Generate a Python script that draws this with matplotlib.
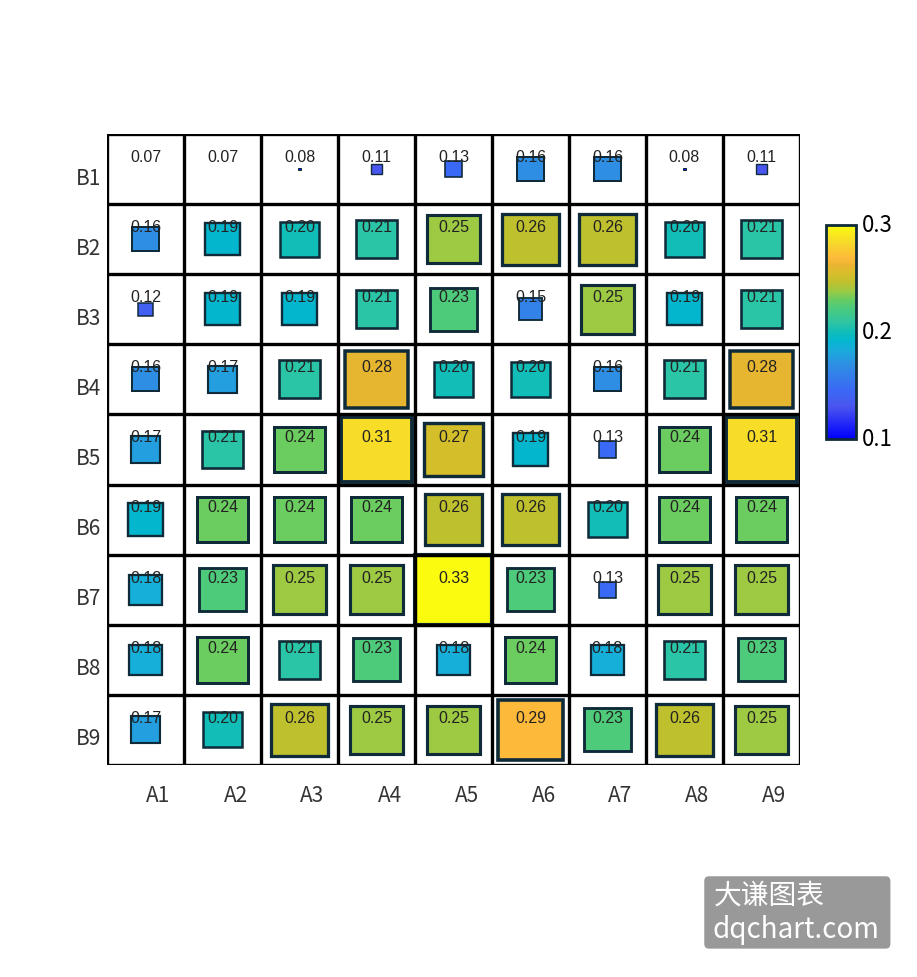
import numpy as np
import matplotlib
matplotlib.use("Agg")
import matplotlib.pyplot as plt
from matplotlib.colors import LinearSegmentedColormap, Normalize
from matplotlib.patches import Rectangle, FancyBboxPatch
import matplotlib.transforms as mtransforms

plt.rcParams['font.family'] = ['Noto Sans CJK SC', 'DejaVu Sans']

cols = ["A1", "A2", "A3", "A4", "A5", "A6", "A7", "A8", "A9"]
rows = ["B1", "B2", "B3", "B4", "B5", "B6", "B7", "B8", "B9"]

b1 = [0.07, 0.07, 0.08, 0.11, 0.13, 0.16, 0.16, 0.08, 0.11]
b2 = [0.16, 0.19, 0.20, 0.21, 0.25, 0.26, 0.26, 0.20, 0.21]
b3 = [0.12, 0.19, 0.19, 0.21, 0.23, 0.15, 0.25, 0.19, 0.21]
b4 = [0.16, 0.17, 0.21, 0.28, 0.20, 0.20, 0.16, 0.21, 0.28]
b5 = [0.17, 0.21, 0.24, 0.31, 0.27, 0.19, 0.13, 0.24, 0.31]
b6 = [0.19, 0.24, 0.24, 0.24, 0.26, 0.26, 0.20, 0.24, 0.24]
b7 = [0.18, 0.23, 0.25, 0.25, 0.33, 0.23, 0.13, 0.25, 0.25]
b8 = [0.18, 0.24, 0.21, 0.23, 0.18, 0.24, 0.18, 0.21, 0.23]
b9 = [0.17, 0.20, 0.26, 0.25, 0.25, 0.29, 0.23, 0.26, 0.25]
values = np.array([b1, b2, b3, b4, b5, b6, b7, b8, b9])

vmin, vmax = values.min(), values.max()

# custom blue -> cyan -> green -> olive -> orange -> yellow map
cmap = LinearSegmentedColormap.from_list("bcgy", [
    (0.00, "#0000ff"),
    (0.15, "#4a55ef"),
    (0.23, "#3a6af5"),
    (0.35, "#2d90e2"),
    (0.42, "#18aedb"),
    (0.46, "#03b6cf"),
    (0.50, "#10bdb8"),
    (0.54, "#2cc4a6"),
    (0.615, "#4ccb7a"),
    (0.655, "#6bcc5f"),
    (0.69, "#9aca45"),
    (0.73, "#bdc02e"),
    (0.77, "#d5bf2a"),
    (0.81, "#e8b531"),
    (0.846, "#fdb93a"),
    (0.92, "#f7da2a"),
    (1.00, "#fbfb10"),
])
norm = Normalize(vmin=vmin, vmax=vmax)

fig = plt.figure(figsize=(9.17, 9.78), dpi=100)
ax = fig.add_axes([0.1167, 0.2168, 0.7557, 0.6452])

n_r, n_c = values.shape
for i in range(n_r):
    for j in range(n_c):
        v = values[i, j]
        s = (v - vmin) / (vmax - vmin)
        if s > 0:
            ax.add_patch(Rectangle((j + 0.5 - s / 2, i + 0.5 - s / 2), s, s,
                                   facecolor=cmap(norm(v)), edgecolor="#0f2a38",
                                   linewidth=9 * v, zorder=2))
        ax.text(j + 0.5, i + 0.32, f"{v:.2f}", ha="center", va="center",
                fontsize=11.5, color="#222222", family="Liberation Sans", zorder=3)

for k in range(n_c + 1):
    ax.axvline(k, color="black", lw=2.4, zorder=4)
for k in range(n_r + 1):
    ax.axhline(k, color="black", lw=2.4, zorder=4)

ax.set_xlim(0, n_c)
ax.set_ylim(n_r, 0)
ax.set_xticks(np.arange(n_c) + 0.5)
ax.set_xticklabels(cols, fontsize=15, color="#333333")
ax.set_yticks(np.arange(n_r) + 0.5)
ax.set_yticklabels(rows, fontsize=15, color="#333333")
ax.tick_params(axis="x", length=0, pad=14)
ax.tick_params(axis="y", length=0, pad=4)
for sp in ax.spines.values():
    sp.set_visible(False)

dx = mtransforms.ScaledTranslation(0.13, 0, fig.dpi_scale_trans)
for lab in ax.get_xticklabels():
    lab.set_transform(lab.get_transform() + dx)
dy = mtransforms.ScaledTranslation(0, -0.06, fig.dpi_scale_trans)
for lab in ax.get_yticklabels():
    lab.set_transform(lab.get_transform() + dy)

cax = fig.add_axes([0.9008, 0.5501, 0.0327, 0.2188])
sm = plt.cm.ScalarMappable(norm=norm, cmap=cmap)
cb = fig.colorbar(sm, cax=cax, ticks=[vmin, 0.2, vmax])
cb.ax.set_yticklabels([f"{t:.1f}" for t in [vmin, 0.2, vmax]])
cb.ax.tick_params(length=0, labelsize=16, pad=4)
for lab in cb.ax.get_yticklabels():
    lab.set_transform(lab.get_transform() + mtransforms.ScaledTranslation(0, 0.03, fig.dpi_scale_trans))
cb.outline.set_edgecolor("#0f2a38")
cb.outline.set_linewidth(2)

# watermark
fig.patches.append(FancyBboxPatch((0.768, 0.029), 0.203, 0.074,
                                  boxstyle="round,pad=0,rounding_size=0.005",
                                  transform=fig.transFigure, facecolor="#999999",
                                  edgecolor="none"))
fig.text(0.778, 0.084, "大谦图表", color="white", fontsize=20, va="center", ha="left")
fig.text(0.777, 0.049, "dqchart.com", color="white", fontsize=20, va="center", ha="left")

fig.savefig("out.png", dpi=100)
plt.close()
